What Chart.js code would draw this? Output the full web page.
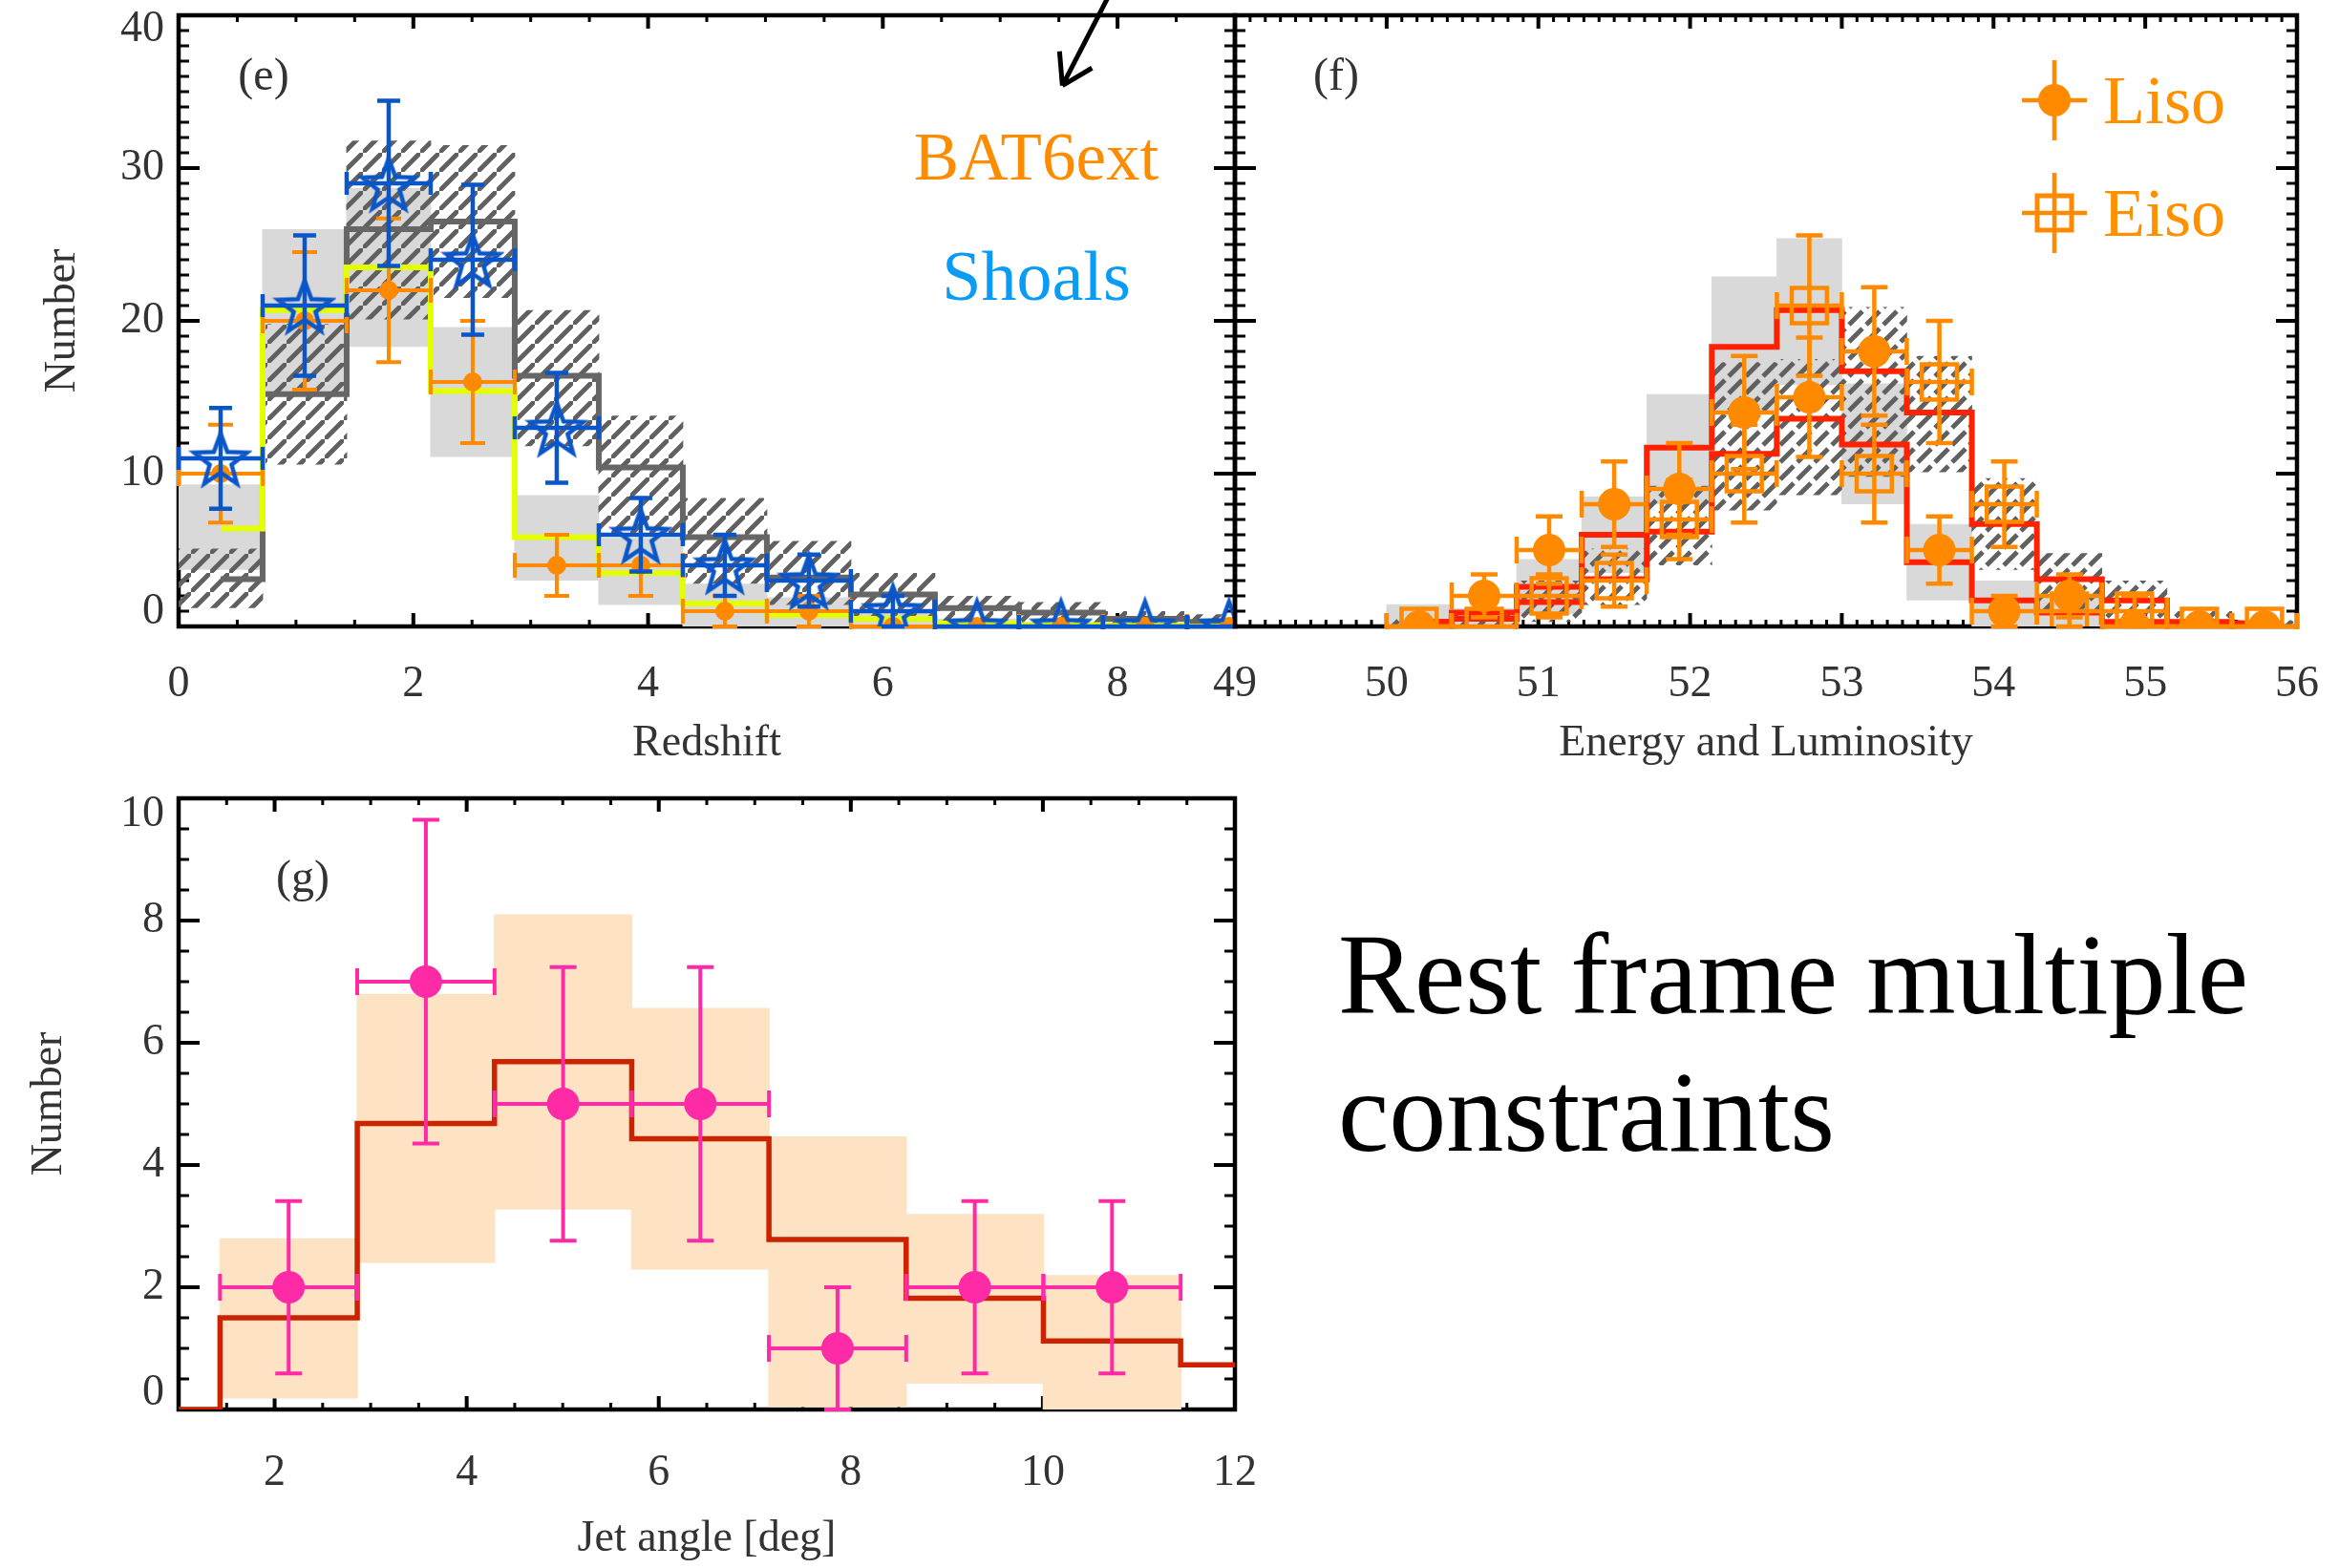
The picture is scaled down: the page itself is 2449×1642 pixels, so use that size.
<!DOCTYPE html>
<html>
<head>
<meta charset="utf-8">
<title>Rest frame multiple constraints</title>
<script src="https://cdn.jsdelivr.net/npm/chart.js@4.4.1/dist/chart.umd.min.js"></script>
<style>
  html, body { margin: 0; padding: 0; background: #fff; }
  #page { position: relative; width: 2449px; height: 1642px; overflow: hidden; font-family: 'Liberation Serif', serif; }
  canvas { position: absolute; }
  .lbl { position: absolute; line-height: 1; white-space: nowrap; transform: translate(-50%, -50%); }
  .leg { position: absolute; line-height: 1; white-space: nowrap; transform: translateY(-50%); color: #ff9000; font-size: 72px; }
  #note { position: absolute; left: 1401px; top: 949px; font-size: 120px; line-height: 144px; color: #000; white-space: nowrap; }
</style>
</head>
<body>
<div id="page">
  <canvas id="chartE" width="1340" height="830" style="left:0;top:0"></canvas>
  <canvas id="chartF" width="1199" height="830" style="left:1250px;top:0"></canvas>
  <canvas id="chartG" width="1340" height="822" style="left:0;top:820px"></canvas>

  <div class="lbl" style="left:276px;top:78px;font-size:48px;color:#333">(e)</div>
  <div class="lbl" style="left:1399px;top:78px;font-size:48px;color:#333">(f)</div>
  <div class="lbl" style="left:317px;top:918px;font-size:48px;color:#333">(g)</div>
  <div class="lbl" style="left:1085px;top:164px;font-size:71px;color:#ff8c00">BAT6ext</div>
  <div class="lbl" style="left:1085px;top:289px;font-size:74px;color:#0a9bf5">Shoals</div>
  <div class="leg" style="left:2202px;top:105px">Liso</div>
  <div class="leg" style="left:2202px;top:223px">Eiso</div>
  <div id="note">Rest frame multiple<br>constraints</div>
</div>
<script>
// ---- (e) redshift ----
const zBins = [0.358, 1.074, 1.790, 2.506, 3.222, 3.938, 4.654, 5.370, 6.086, 6.802, 7.518, 8.234, 8.950];
const zHalf = 0.358;
const zBat6 = [10, 20, 22, 16, 4, 4, 1, 1, 0, 0, 0, 0, 0];
const zBat6Err = [3.2, 4.5, 4.7, 4.0, 2.0, 2.0, 1.0, 1.0, 0, 0, 0, 0, 0];
const zShoals = [11, 21, 29, 24, 13, 6, 4, 3, 1, 0, 0, 0, 0];
const zShoalsErr = [3.3, 4.6, 5.4, 4.9, 3.6, 2.4, 2.0, 1.7, 1.0, 0, 0, 0, 0];
const zModelGray = [3.1, 15.2, 26.0, 26.5, 16.4, 10.4, 5.85, 3.2, 2.1, 1.2, 0.9, 0.5, 0.3];
const zModelYellow = [6.4, 20.7, 23.5, 15.4, 5.85, 3.5, 1.5, 0.75, 0.5, 0.2, 0.1, 0.05, 0];
const zBandLo = [3.7, 15.2, 18.3, 11.1, 3.0, 1.4, 0, 0, 0, 0, 0, 0, 0];
const zBandHi = [9.3, 26.0, 28.7, 19.6, 8.6, 5.8, 2.8, 1.9, 0.9, 0.5, 0.3, 0.3, 0.3];
const zHatchLo = [1.2, 10.6, 20.1, 21.5, 11.8, 5.9, 2.8, 1.4, 0.6, 0.2, 0, 0, 0];
const zHatchHi = [5.1, 19.8, 31.8, 31.5, 20.7, 13.8, 8.4, 5.6, 3.5, 2.0, 1.6, 1.0, 0.8];
const eXTicks = [0, 2, 4, 6, 8];
const eYTicks = [0, 10, 20, 30, 40];
const arrowE = { from: [7.92, 41.2], to: [7.53, 35.4] };

// ---- (f) energy and luminosity ----
const isoBins = [50.214, 50.643, 51.071, 51.500, 51.929, 52.357, 52.786, 53.214, 53.643, 54.071, 54.500, 54.929, 55.357, 55.786];
const isoHalf = 0.214;
const lisoCounts = [0, 2, 5, 8, 9, 14, 15, 18, 5, 1, 2, 0, 0, 0];
const lisoErr = [0, 1.4, 2.2, 2.8, 3.0, 3.7, 3.9, 4.2, 2.2, 1.0, 1.4, 0, 0, 0];
const eisoCounts = [0, 0, 2, 3, 7, 10, 21, 10, 16, 8, 1, 1, 0, 0];
const eisoErr = [0, 0, 1.4, 1.7, 2.6, 3.2, 4.6, 3.2, 4.0, 2.8, 1.0, 1.0, 0, 0];
const isoModelA = [0.3, 0.9, 2.6, 6.0, 11.7, 18.3, 20.7, 16.7, 14.0, 6.7, 3.1, 1.7, 0.3, 0.2];
const isoModelB = [0.3, 0.5, 1.6, 3.1, 6.2, 11.3, 13.6, 11.9, 4.2, 1.7, 0.9, 0.3, 0.2, 0.2];
const isoBandLo = [0, 0, 0.8, 3.5, 8.0, 14.0, 15.8, 8.0, 1.7, 0, 0, 0, 0, 0];
const isoBandHi = [1.45, 1.2, 4.4, 8.5, 15.2, 22.9, 25.4, 15.9, 6.7, 3.0, 2.0, 0, 0, 0];
const isoHatchLo = [0, 0, 0.3, 1.4, 4.0, 7.6, 8.6, 9.8, 10.1, 3.7, 0.9, 0.3, 0, 0];
const isoHatchHi = [0.5, 0.8, 3.0, 5.1, 9.2, 17.3, 17.5, 20.9, 17.7, 9.7, 4.8, 3.0, 1.0, 0.4];
const fXTicks = [49, 50, 51, 52, 53, 54, 55, 56];

// ---- (g) jet angle ----
const jetBins = [2.146, 3.575, 5.004, 6.433, 7.862, 9.291, 10.720];
const jetHalf = 0.715;
const jetCounts = [2, 7, 5, 5, 1, 2, 2];
const jetErr = [1.41, 2.65, 2.24, 2.24, 1.0, 1.41, 1.41];
const jetBandLo = [0.18, 2.4, 3.27, 2.29, 0.04, 0.42, 0];
const jetBandHi = [2.8, 6.8, 8.1, 6.57, 4.47, 3.2, 2.2];
const jetModelX = [0.717, 2.146, 3.575, 5.004, 6.433, 7.862, 9.291, 10.720, 12.149];
const jetModel = [0, 1.5, 4.68, 5.69, 4.43, 2.78, 1.82, 1.12, 0.73];
const gXTicks = [2, 4, 6, 8, 10, 12];
const gYTicks = [0, 2, 4, 6, 8, 10];

Chart.defaults.font.family = "'Liberation Serif', serif";
Chart.defaults.color = '#333';

const orange = '#ff8a00';
const blue = '#0a56c8';

function pts(xs, ys) { return xs.map((x, i) => ({ x: x, y: ys[i] })); }
function spans(xs, lo, hi) { return xs.map((x, i) => ({ x: x, y: [lo[i], hi[i]] })); }

// diagonal hatching; gap > 0 breaks the lines into dashes
function hatch(canvasId, size, gap) {
  const tile = document.createElement('canvas');
  tile.width = tile.height = size;
  const g = tile.getContext('2d');
  g.strokeStyle = '#606060';
  g.lineWidth = 5;
  g.beginPath();
  if (gap > 0) {
    g.moveTo(gap, size - gap); g.lineTo(size - gap, gap);
  } else {
    g.moveTo(-2, size + 2); g.lineTo(size + 2, -2);
    g.moveTo(-2 - size, 2); g.lineTo(2, -2 - size);
    g.moveTo(size - 2, 2 * size + 2); g.lineTo(2 * size + 2, size - 2);
  }
  g.stroke();
  return document.getElementById(canvasId).getContext('2d').createPattern(tile, 'repeat');
}

function starImage(color) {
  const R = 29, r = 12, lw = 4.5;
  const c = document.createElement('canvas');
  const s = Math.ceil(2 * R + 2 * lw);
  c.width = c.height = s;
  const g = c.getContext('2d');
  g.strokeStyle = color;
  g.lineWidth = lw;
  g.beginPath();
  for (let k = 0; k < 10; k++) {
    const a = -Math.PI / 2 + k * Math.PI / 5;
    const rad = k % 2 ? r : R;
    g.lineTo(s / 2 + rad * Math.cos(a), s / 2 + rad * Math.sin(a) + 3);
  }
  g.closePath();
  g.stroke();
  return c;
}

// frame with inward ticks on all four sides, drawn under the data
const axesBox = {
  id: 'axesBox',
  beforeDatasetsDraw(chart, args, o) {
    const { ctx, chartArea: a } = chart;
    const x = chart.scales.x, y = chart.scales.y;
    ctx.save();
    ctx.strokeStyle = '#000';
    const marks = (scale, step, len, onX) => {
      const first = Math.ceil(scale.min / step - 1e-6);
      const last = Math.floor(scale.max / step + 1e-6);
      ctx.beginPath();
      for (let k = first; k <= last; k++) {
        const p = scale.getPixelForValue(k * step);
        if (onX) {
          ctx.moveTo(p, a.bottom); ctx.lineTo(p, a.bottom - len);
          ctx.moveTo(p, a.top); ctx.lineTo(p, a.top + len);
        } else {
          ctx.moveTo(a.left, p); ctx.lineTo(a.left + len, p);
          ctx.moveTo(a.right, p); ctx.lineTo(a.right - len, p);
        }
      }
      ctx.stroke();
    };
    ctx.lineWidth = 3;
    marks(x, o.xMinor, 7, true);
    marks(y, o.yMinor, 11, false);
    ctx.lineWidth = 4;
    marks(x, o.xMajor, 14, true);
    marks(y, o.yMajor, 22, false);
    ctx.lineWidth = 4.5;
    ctx.strokeRect(a.left, a.top, a.width, a.height);
    ctx.restore();
  }
};

// pull the end labels of the y axis inside the frame, as in the original figure
const edgeLabels = {
  id: 'edgeLabels',
  beforeDraw(chart, args, o) {
    const s = chart.scales.y;
    if (!s.options.ticks.display || !o.shift) return;
    const items = s.getLabelItems();
    if (!items.length || items.shifted) return;
    items[0].options.translation[1] -= o.shift;
    items[items.length - 1].options.translation[1] += o.shift;
    items.shifted = true;
  }
};

// x and y error bars with caps, drawn just before their points
const errorBars = {
  id: 'errorBars',
  beforeDatasetDraw(chart, args) {
    const ds = chart.data.datasets[args.index];
    if (!ds.errY) return;
    const { ctx, chartArea: a } = chart;
    const x = chart.scales.x, y = chart.scales.y;
    const cap = ds.capSize;
    ctx.save();
    ctx.beginPath();
    ctx.rect(a.left - 3, a.top - 3, a.width + 6, a.height + 6);
    ctx.clip();
    ctx.strokeStyle = ds.errColor;
    ctx.lineWidth = ds.errWidth;
    ds.data.forEach((p, i) => {
      const px = x.getPixelForValue(p.x), py = y.getPixelForValue(p.y);
      const xl = x.getPixelForValue(p.x - ds.errX), xr = x.getPixelForValue(p.x + ds.errX);
      ctx.beginPath();
      ctx.moveTo(xl, py); ctx.lineTo(xr, py);
      ctx.moveTo(xl, py - cap); ctx.lineTo(xl, py + cap);
      ctx.moveTo(xr, py - cap); ctx.lineTo(xr, py + cap);
      const e = ds.errY[i];
      if (e > 0) {
        const yt = y.getPixelForValue(p.y + e), yb = y.getPixelForValue(p.y - e);
        ctx.moveTo(px, yt); ctx.lineTo(px, yb);
        ctx.moveTo(px - cap, yt); ctx.lineTo(px + cap, yt);
        ctx.moveTo(px - cap, yb); ctx.lineTo(px + cap, yb);
      }
      ctx.stroke();
    });
    ctx.restore();
  }
};

const arrowNote = {
  id: 'arrowNote',
  afterDatasetsDraw(chart) {
    const { ctx } = chart;
    const x = chart.scales.x, y = chart.scales.y;
    const x0 = x.getPixelForValue(arrowE.from[0]), y0 = y.getPixelForValue(arrowE.from[1]);
    const x1 = x.getPixelForValue(arrowE.to[0]), y1 = y.getPixelForValue(arrowE.to[1]);
    const ang = Math.atan2(y1 - y0, x1 - x0) + Math.PI;
    ctx.save();
    ctx.strokeStyle = '#000';
    ctx.lineWidth = 5;
    ctx.beginPath();
    ctx.moveTo(x0, y0); ctx.lineTo(x1, y1);
    [-0.56, 0.56].forEach(s => {
      ctx.moveTo(x1, y1);
      ctx.lineTo(x1 + 36 * Math.cos(ang + s), y1 + 36 * Math.sin(ang + s));
    });
    ctx.stroke();
    ctx.restore();
  }
};

// legend symbols for panel (f); the words are HTML text
const isoLegend = {
  id: 'isoLegend',
  afterDraw(chart) {
    const { ctx } = chart;
    ctx.save();
    ctx.strokeStyle = orange;
    ctx.fillStyle = orange;
    ctx.lineWidth = 4.5;
    [[901, 105], [901, 223]].forEach(([cx, cy], k) => {
      ctx.beginPath();
      ctx.moveTo(cx - 34, cy); ctx.lineTo(cx + 34, cy);
      ctx.moveTo(cx, cy - 42); ctx.lineTo(cx, cy + 42);
      ctx.stroke();
      if (k === 0) {
        ctx.beginPath(); ctx.arc(cx, cy, 17, 0, Math.PI * 2); ctx.fill();
      } else {
        ctx.lineWidth = 5;
        ctx.strokeRect(cx - 18, cy - 18, 36, 36);
      }
    });
    ctx.restore();
  }
};

function xAxis(min, max, ticks, title, height, pad, titlePad) {
  return {
    type: 'linear', min: min, max: max, offset: false,
    grid: { display: false, drawTicks: false, offset: false }, border: { display: false },
    afterBuildTicks: a => { a.ticks = ticks.map(v => ({ value: v })); },
    afterFit: a => { a.height = height; a.paddingLeft = 0; a.paddingRight = 0; },
    ticks: { autoSkip: false, maxRotation: 0, padding: pad, font: { size: 46 }, color: '#333', callback: v => String(v) },
    title: { display: true, text: title, font: { size: 46 }, color: '#333', padding: { top: 0, bottom: titlePad } }
  };
}

function yAxis(min, max, ticks, width, titlePad, show) {
  return {
    type: 'linear', min: min, max: max,
    grid: { display: false, drawTicks: false }, border: { display: false },
    afterBuildTicks: a => { a.ticks = ticks.map(v => ({ value: v })); },
    afterFit: a => { a.width = width; a.paddingTop = 0; a.paddingBottom = 0; },
    ticks: { display: show, padding: 15, font: { size: 46 }, color: '#333', callback: v => String(v) },
    title: { display: show, text: 'Number', font: { size: 46 }, color: '#333', padding: { top: titlePad, bottom: 0 } }
  };
}

const barStyle = { type: 'bar', grouped: false, barPercentage: 1.01, categoryPercentage: 1, borderWidth: 0 };
const stepStyle = { type: 'line', stepped: 'middle', pointRadius: 0, fill: false };

new Chart(document.getElementById('chartE'), {
  type: 'scatter',
  data: {
    datasets: [
      { type: 'scatter', label: 'Shoals', data: pts(zBins, zShoals), pointStyle: starImage(blue), order: 1,
        errY: zShoalsErr, errX: zHalf, errColor: blue, errWidth: 4.5, capSize: 12 },
      { type: 'scatter', label: 'BAT6ext', data: pts(zBins, zBat6), pointStyle: 'circle', pointRadius: 10,
        backgroundColor: orange, borderWidth: 0, order: 2,
        errY: zBat6Err, errX: zHalf, errColor: orange, errWidth: 4, capSize: 13 },
      Object.assign({ label: 'model b', data: pts(zBins, zModelYellow), borderColor: '#e4ff00', borderWidth: 6, order: 3 }, stepStyle),
      Object.assign({ label: 'model a', data: pts(zBins, zModelGray), borderColor: '#666666', borderWidth: 6, order: 4 }, stepStyle),
      Object.assign({ label: 'range a', data: spans(zBins, zHatchLo, zHatchHi), backgroundColor: hatch('chartE', 20, 0), order: 5 }, barStyle),
      Object.assign({ label: 'range b', data: spans(zBins, zBandLo, zBandHi), backgroundColor: '#d9d9d9', order: 6 }, barStyle)
    ]
  },
  options: {
    responsive: false, animation: false, events: [],
    layout: { autoPadding: false, padding: { left: 0, right: 47, top: 16, bottom: 0 } },
    plugins: { legend: { display: false }, tooltip: { enabled: false },
      axesBox: { xMajor: 2, xMinor: 0.5, yMajor: 10, yMinor: 1 }, edgeLabels: { shift: 15 } },
    scales: {
      x: xAxis(0, 9, eXTicks, 'Redshift', 174, 33, 23),
      y: yAxis(0, 40, eYTicks, 187, 38, true)
    }
  },
  plugins: [axesBox, edgeLabels, errorBars, arrowNote]
});

new Chart(document.getElementById('chartF'), {
  type: 'scatter',
  data: {
    datasets: [
      { type: 'scatter', label: 'Eiso', data: pts(isoBins, eisoCounts), pointStyle: 'rect', pointRadius: 26,
        backgroundColor: 'rgba(0,0,0,0)', borderColor: orange, borderWidth: 4.5, order: 1,
        errY: eisoErr, errX: isoHalf, errColor: orange, errWidth: 4.5, capSize: 14 },
      { type: 'scatter', label: 'Liso', data: pts(isoBins, lisoCounts), pointStyle: 'circle', pointRadius: 17,
        backgroundColor: orange, borderWidth: 0, order: 2,
        errY: lisoErr, errX: isoHalf, errColor: orange, errWidth: 4.5, capSize: 14 },
      Object.assign({ label: 'model L', data: pts(isoBins, isoModelA), borderColor: '#ff2200', borderWidth: 6, order: 3 }, stepStyle),
      Object.assign({ label: 'model E', data: pts(isoBins, isoModelB), borderColor: '#ff2200', borderWidth: 6, order: 3 }, stepStyle),
      Object.assign({ label: 'range a', data: spans(isoBins, isoHatchLo, isoHatchHi), backgroundColor: hatch('chartF', 18, 2), order: 5 }, barStyle),
      Object.assign({ label: 'range b', data: spans(isoBins, isoBandLo, isoBandHi), backgroundColor: '#d9d9d9', order: 6 }, barStyle)
    ]
  },
  options: {
    responsive: false, animation: false, events: [],
    layout: { autoPadding: false, padding: { left: 43, right: 44, top: 16, bottom: 0 } },
    plugins: { legend: { display: false }, tooltip: { enabled: false },
      axesBox: { xMajor: 1, xMinor: 0.1, yMajor: 10, yMinor: 1 } },
    scales: {
      x: xAxis(49, 56, fXTicks, 'Energy and Luminosity', 174, 33, 23),
      y: yAxis(0, 40, eYTicks, 0, 0, false)
    }
  },
  plugins: [axesBox, errorBars, isoLegend]
});

new Chart(document.getElementById('chartG'), {
  type: 'scatter',
  data: {
    datasets: [
      { type: 'scatter', label: 'jet', data: pts(jetBins, jetCounts), pointStyle: 'circle', pointRadius: 17,
        backgroundColor: '#ff2aa6', borderWidth: 0, order: 1,
        errY: jetErr, errX: jetHalf, errColor: '#ff2aa6', errWidth: 4, capSize: 14 },
      Object.assign({ label: 'model', data: pts(jetModelX, jetModel), borderColor: '#cc2200', borderWidth: 5.5, order: 2 }, stepStyle),
      Object.assign({ label: 'range', data: spans(jetBins, jetBandLo, jetBandHi), backgroundColor: '#fde2c4', order: 3 }, barStyle)
    ]
  },
  options: {
    responsive: false, animation: false, events: [],
    layout: { autoPadding: false, padding: { left: 0, right: 47, top: 16, bottom: 0 } },
    plugins: { legend: { display: false }, tooltip: { enabled: false },
      axesBox: { xMajor: 2, xMinor: 0.5, yMajor: 2, yMinor: 0.5 }, edgeLabels: { shift: 17 } },
    scales: {
      x: xAxis(1, 12, gXTicks, 'Jet angle [deg]', 166, 39, 2),
      y: yAxis(0, 10, gYTicks, 187, 24, true)
    }
  },
  plugins: [axesBox, edgeLabels, errorBars]
});
</script>
</body>
</html>
